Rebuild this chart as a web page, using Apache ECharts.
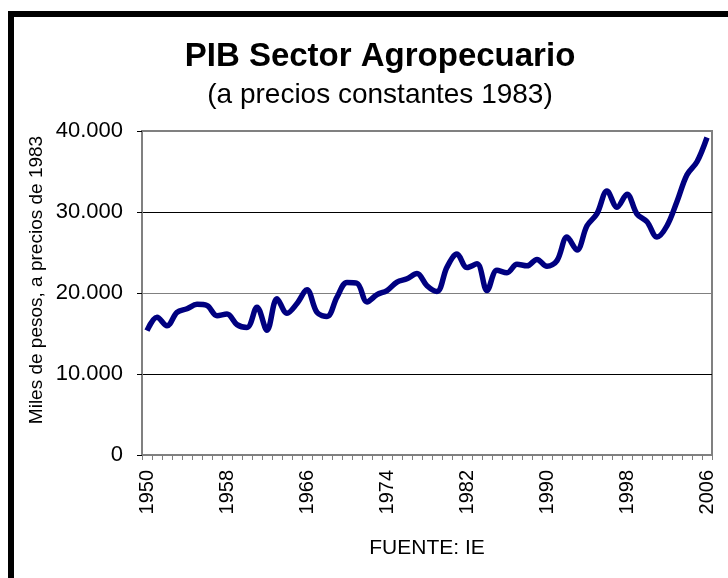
<!DOCTYPE html>
<html>
<head>
<meta charset="utf-8">
<script src="https://cdn.jsdelivr.net/npm/echarts@6/dist/echarts.min.js"></script>
<style>
  html, body { margin: 0; padding: 0; background: #fff; }
  #chart { width: 728px; height: 578px; }
</style>
</head>
<body>
<div id="chart"></div>
<script>
// PIB sector agropecuario, miles de pesos a precios de 1983
const years = []
for (let y = 1950; y <= 2006; y++) years.push(String(y))

const pib = [
  15.35, 17.0, 15.95, 17.6, 18.05, 18.6, 18.45, 17.2, 17.4, 16.1,
  15.75, 18.25, 15.4, 19.3, 17.5, 18.7, 20.4, 17.6, 17.1, 19.5,
  21.3, 21.2, 18.9, 19.8, 20.3, 21.35, 21.75, 22.4, 20.9, 20.2,
  23.2, 24.8, 23.15, 23.6, 20.3, 22.8, 22.5, 23.55, 23.35, 24.15,
  23.3, 24.0, 26.9, 25.3, 28.3, 29.8, 32.6, 30.6, 32.2, 29.75,
  28.8, 26.9, 28.3, 31.3, 34.6, 36.2, 39.2
].map(v => Math.round(v * 1000))

const yTicks = [0, 10000, 20000, 30000, 40000]
const yName = 'Miles de pesos, a precios de 1983'

// separador de miles con punto
function fmtMiles(v) {
  return String(v).replace(/\B(?=(\d{3})+(?!\d))/g, '.')
}

const font = 'Liberation Sans, Arial, sans-serif'
const chart = echarts.init(document.getElementById('chart'), null, { renderer: 'canvas' })

chart.setOption({
  animation: false,
  textStyle: { fontFamily: font, color: '#000' },
  title: {
    text: 'PIB Sector Agropecuario',
    subtext: '(a precios constantes 1983)',
    left: 375,
    top: 35,
    textAlign: 'center',
    itemGap: 8,
    textStyle: { fontSize: 33, fontWeight: 'bold', color: '#000', fontFamily: font },
    subtextStyle: { fontSize: 28, color: '#000', fontFamily: font }
  },
  graphic: [{
    type: 'rect',
    shape: { x: 11, y: 14, width: 900, height: 900 },
    style: { fill: 'none', stroke: '#000', lineWidth: 6 },
    silent: true
  }, {
    // titulo del eje Y (un poco por encima del centro, como el original)
    type: 'text',
    x: 37, y: 280,
    rotation: Math.PI / 2,
    style: {
      text: yName, fontSize: 19, fontFamily: font, fill: '#000',
      align: 'center', verticalAlign: 'middle'
    },
    silent: true
  }],
  grid: {
    left: 142, top: 131, width: 570, height: 324,
    show: true, borderColor: '#808080', borderWidth: 2, backgroundColor: '#fff'
  },
  xAxis: {
    type: 'category',
    data: years,
    boundaryGap: true,
    name: 'FUENTE: IE',
    nameLocation: 'middle',
    nameGap: 83,
    nameTextStyle: { fontSize: 21, color: '#000' },
    axisLine: { lineStyle: { color: '#808080', width: 2 } },
    axisTick: { show: true, interval: 0, length: 5, lineStyle: { color: '#808080' } },
    axisLabel: {
      interval: 7, rotate: 90, margin: 15, fontSize: 20, color: '#000'
    }
  },
  yAxis: {
    type: 'value',
    min: yTicks[0],
    max: yTicks[yTicks.length - 1],
    interval: 10000,
    axisLine: { show: true, lineStyle: { color: '#808080', width: 2 } },
    axisTick: { show: true, length: 5, lineStyle: { color: '#000' } },
    axisLabel: { fontSize: 22, margin: 19, color: '#000', formatter: fmtMiles },
    splitLine: {
      show: true,
      lineStyle: { color: ['#808080', '#000', '#808080', '#000', '#808080'], width: 1 }
    }
  },
  series: [{
    type: 'line',
    data: pib,
    smooth: 0.35,
    showSymbol: false,
    lineStyle: { color: '#000080', width: 5.5 },
    itemStyle: { color: '#000080' }
  }]
})
</script>
</body>
</html>
